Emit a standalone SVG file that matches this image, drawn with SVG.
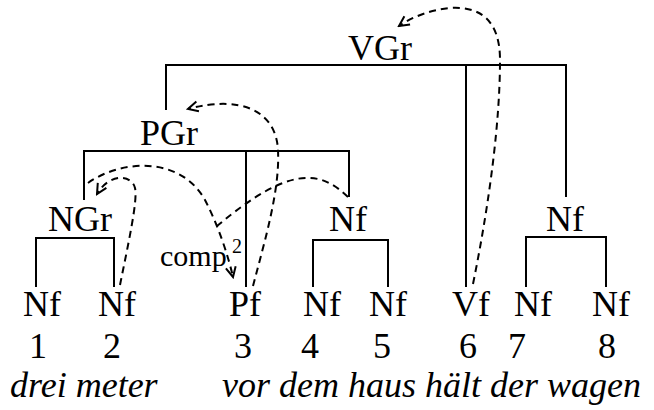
<svg xmlns="http://www.w3.org/2000/svg" width="654" height="410" viewBox="0 0 654 410" font-family="Liberation Serif, serif">
<style>
  text { font-size: 36px; fill: #000; text-anchor: middle; }
  .it { font-style: italic; text-anchor: start; }
  .small { font-size: 30px; text-anchor: start; }
  .sup { font-size: 20px; text-anchor: start; }
  .edge { fill: none; stroke: #000; stroke-width: 2; }
  .dep { fill: none; stroke: #000; stroke-width: 2; stroke-dasharray: 7 5; }
</style>
<defs>
  <marker id="arr" viewBox="-12 -7 14 14" markerWidth="14" markerHeight="14" refX="0" refY="0" orient="auto" markerUnits="userSpaceOnUse">
    <path d="M -10 -5 L 0 0 L -10 5" fill="none" stroke="#000" stroke-width="2"/>
  </marker>
</defs>
<rect width="654" height="410" fill="#fff"/>
<g id="connectors">
  <path class="edge" d="M 166 110 V 65 H 566 V 197"/>
  <path class="edge" d="M 466 65 V 287"/>
  <path class="edge" d="M 84 200 V 151 H 349 V 197"/>
  <path class="edge" d="M 246 151 V 287"/>
  <path class="edge" d="M 36 287 V 238 H 114 V 287"/>
  <path class="edge" d="M 313 287 V 240 H 388 V 287"/>
  <path class="edge" d="M 526 287 V 237 H 606 V 287"/>
  <path class="dep" d="M 473 284 C 490 200, 500 120, 500 60 C 500 20, 480 6, 450 8 C 430 10, 412 17, 399 26" marker-end="url(#arr)"/>
  <path class="dep" d="M 253 286 C 265 240, 280 190, 278 150 C 276 110, 240 95, 188 109" marker-end="url(#arr)"/>
  <path class="dep" d="M 120 285 C 128 245, 138 200, 135 188 C 132 175, 110 172, 97 194" marker-end="url(#arr)"/>
  <path class="dep" d="M 88 183 C 120 160, 180 155, 205 200 C 218 225, 228 255, 233 277" marker-end="url(#arr)"/>
  <path class="dep" d="M 348 197 C 320 170, 290 165, 217 226"/>
</g>
<g id="VGr"><text x="380" y="60">VGr</text></g>
<g id="PGr"><text x="169" y="145">PGr</text></g>
<g id="NGr"><text x="80" y="231">NGr</text></g>
<g id="Nf-mid"><text x="348" y="231">Nf</text></g>
<g id="Nf-right"><text x="565" y="231">Nf</text></g>
<g id="comp-label"><text class="small" x="160" y="266">comp</text><text class="sup" x="232" y="253">2</text></g>
<g id="leaf1"><text x="42" y="316">Nf</text><text x="38" y="358">1</text></g>
<g id="leaf2"><text x="117" y="316">Nf</text><text x="112" y="358">2</text></g>
<g id="leaf3"><text x="245" y="316">Pf</text><text x="243" y="358">3</text></g>
<g id="leaf4"><text x="322" y="316">Nf</text><text x="310" y="358">4</text></g>
<g id="leaf5"><text x="388" y="316">Nf</text><text x="382" y="358">5</text></g>
<g id="leaf6"><text x="471" y="316">Vf</text><text x="468" y="358">6</text></g>
<g id="leaf7"><text x="533" y="316">Nf</text><text x="517" y="358">7</text></g>
<g id="leaf8"><text x="611" y="316">Nf</text><text x="607" y="358">8</text></g>
<g id="sentence">
  <text class="it" x="10" y="397">drei meter</text>
  <text class="it" x="222" y="397">vor dem haus hält der wagen</text>
</g>
</svg>
